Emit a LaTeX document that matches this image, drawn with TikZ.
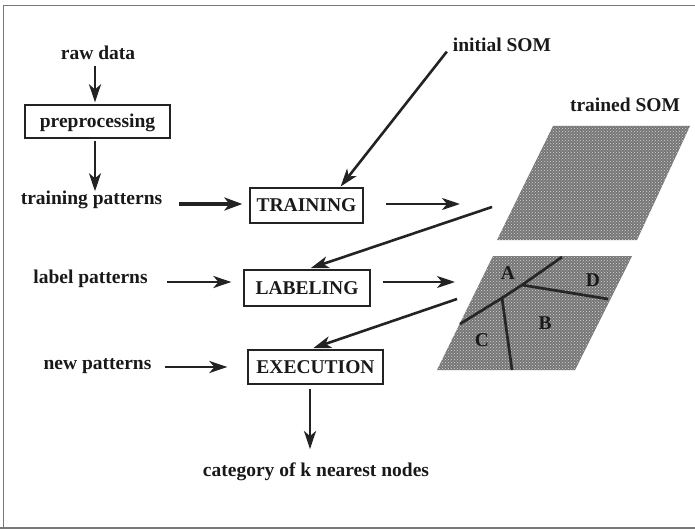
\documentclass[tikz,border=0pt]{standalone}
\usepackage{fontspec}
\setmainfont{Liberation Serif}
\usetikzlibrary{arrows.meta,patterns,calc}
\definecolor{ink}{RGB}{25,25,25}
\definecolor{lineink}{RGB}{35,35,35}
\definecolor{somgray}{RGB}{118,118,118}
\definecolor{framegray}{RGB}{120,120,120}
\begin{document}
\begin{tikzpicture}[x=1pt,y=-1pt,
  every node/.style={text=ink,font=\fontsize{19.5}{22}\selectfont\bfseries},
  lbl/.style={inner sep=1pt,anchor=base},
  box/.style={draw=lineink,line width=1.3pt,inner sep=0pt,minimum height=#1,text height=12.9pt,text depth=0pt},
  arr/.style={draw=lineink,line width=2.6pt,-{Stealth[length=18pt,width=12pt,inset=5pt]}},
  thickarr/.style={draw=lineink,line width=4pt,-{Stealth[length=18pt,width=13pt,inset=5pt]}},
  somfill/.style={fill=somgray},
  somdots/.style={pattern=crosshatch dots,pattern color=white!70!somgray},
  border/.style={draw=framegray,line width=1.6pt},
  region/.style={draw=black!85,line width=2.7pt,line join=round}]
\useasboundingbox (0,0) rectangle (695,529);

% outer frame
\draw[border] (3.5,540) -- (3.5,5.5) -- (700,5.5);
\draw[border] (0,528) -- (700,528);

% text labels
\node[lbl] (raw) at (98,60) {raw data};
\node[lbl] (tpat) at (91.5,205) {training patterns};
\node[lbl] (lpat) at (90.5,283) {label patterns};
\node[lbl] (npat) at (97.5,369) {new patterns};
\node[lbl] (init) at (502,52) {initial SOM};
\node[lbl] (trained) at (625,112) {trained SOM};
\node[lbl] (cat) at (316,476) {category of k nearest nodes};

% process boxes
\node[box=33pt,minimum width=145pt,text height=12pt] (prep) at (97.5,121.5) {preprocessing};
\node[box=35pt,minimum width=113pt] (train) at (306.5,205.5) {TRAINING};
\node[box=36pt,minimum width=126pt] (label) at (307,288) {LABELING};
\node[box=34pt,minimum width=135pt] (exec) at (315.5,367) {EXECUTION};

% trained map
\fill[somfill] (553,126) -- (690,126) -- (637,240) -- (497,240) -- cycle;
\path[somdots] (553,126) -- (690,126) -- (637,240) -- (497,240) -- cycle;

% labelled map with its class regions
\fill[somfill] (493,256) -- (632,256) -- (575,370) -- (437,370) -- cycle;
\path[somdots] (493,256) -- (632,256) -- (575,370) -- (437,370) -- cycle;
\coordinate (jA) at (522,285);
\coordinate (jC) at (502,298);
\draw[region] (460,324) -- (jC) -- (jA) -- (562,257);
\draw[region] (jA) -- (608,299);
\draw[region] (jC) -- (512,370);
\node[inner sep=0pt] (rA) at (508,273) {A};
\node[inner sep=0pt] (rD) at (593,280) {D};
\node[inner sep=0pt] (rB) at (545,323) {B};
\node[inner sep=0pt] (rC) at (482,340) {C};

% free ends of the connectors at the maps
\coordinate (som1in) at (460,204);
\coordinate (som1out) at (492,207);
\coordinate (som2in) at (455,282);
\coordinate (som2out) at (457,299);

% connectors
\draw[arr,shorten <=5pt,shorten >=2pt] ([xshift=-3pt]raw.south) -- ([xshift=-2.5pt]prep.north);
\draw[arr,shorten <=2pt,shorten >=0pt] ([xshift=-2.5pt]prep.south) -- ([xshift=-2.5pt,yshift=-1pt]prep.south |- tpat.north);
\draw[thickarr,shorten <=16pt,shorten >=7pt] ([yshift=1pt]tpat.base east) -- ([yshift=1pt]tpat.base east -| train.west);
\draw[arr,shorten <=8pt,shorten >=1pt] (init.west) -- ([xshift=33.5pt]train.north);
\draw[arr,shorten <=22pt] (train.east |- som1in) -- (som1in);
\draw[arr,shorten >=4pt] (som1out) -- (label.north);
\draw[arr,shorten <=18pt,shorten >=12pt] ([yshift=1pt]lpat.base east) -- ([yshift=1pt]lpat.base east -| label.west);
\draw[arr,shorten <=12pt] ([yshift=6pt]label.east) -- (som2in);
\draw[arr,shorten >=4pt] (som2out) -- ([xshift=-6pt]exec.north);
\draw[arr,shorten <=12pt,shorten >=20pt] ([yshift=2pt]npat.base east) -- ([yshift=2pt]npat.base east -| exec.west);
\draw[arr,shorten <=4pt,shorten >=12pt] ([xshift=-5.5pt]exec.south) -- ([xshift=-5.5pt]exec.south |- cat.north);
\end{tikzpicture}
\end{document}
